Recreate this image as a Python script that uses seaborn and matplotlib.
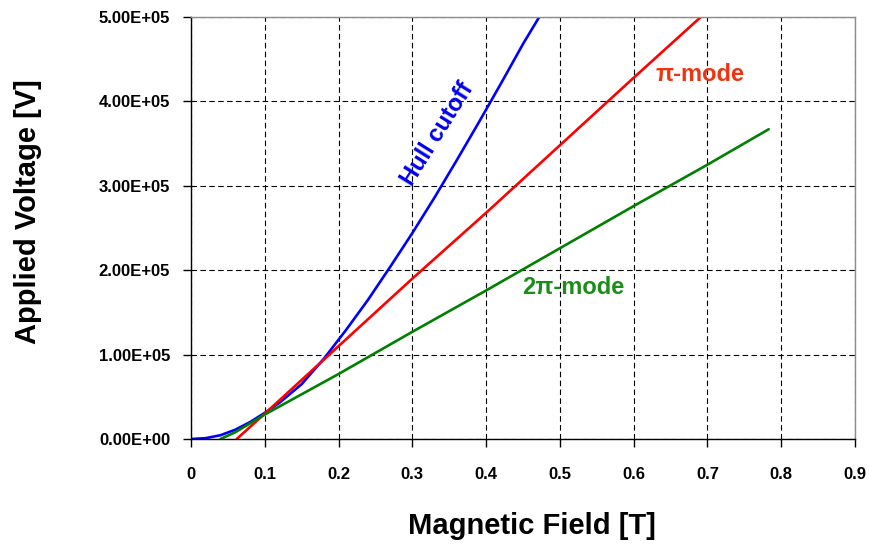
import matplotlib
matplotlib.use("Agg")
import matplotlib.pyplot as plt
import seaborn as sns
import pandas as pd
from matplotlib.ticker import FuncFormatter

# ---- data ----
hull_B = [0.0, 0.02, 0.04, 0.06, 0.08, 0.10, 0.12, 0.15, 0.18, 0.21, 0.24, 0.27,
          0.30, 0.33, 0.36, 0.39, 0.42, 0.45, 0.472]
hull_V = [0, 1000, 4500, 11000, 20000, 31000, 43000, 65000, 95000, 129000, 165000,
          204000, 244000, 286000, 330000, 375000, 421000, 468000, 500000]

pi_B = [0.062, 0.10, 0.20, 0.30, 0.40, 0.50, 0.60, 0.691]
pi_V = [0, 30000, 110000, 190000, 268000, 348000, 428000, 500000]

twopi_B = [0.04, 0.06, 0.10, 0.20, 0.30, 0.40, 0.50, 0.60, 0.70, 0.783]
twopi_V = [0, 8000, 29000, 77000, 127000, 176000, 226000, 276000, 325000, 367000]

x_ticks = [0, 0.1, 0.2, 0.3, 0.4, 0.5, 0.6, 0.7, 0.8, 0.9]
y_ticks = [0, 100000, 200000, 300000, 400000, 500000]

sns.set_style("white")
plt.rcParams["font.family"] = ["Liberation Sans", "DejaVu Sans"]
plt.rcParams["font.weight"] = "bold"

fig = plt.figure(figsize=(8.69, 5.48), dpi=100)
ax = fig.add_axes([191 / 869, 1 - 439 / 548, 664 / 869, 422 / 548])

hull = pd.DataFrame({"B": hull_B, "V": hull_V})
pim = pd.DataFrame({"B": pi_B, "V": pi_V})
tpm = pd.DataFrame({"B": twopi_B, "V": twopi_V})

sns.lineplot(data=hull, x="B", y="V", ax=ax, color="#0000FF", lw=1.9, sort=False, estimator=None)
sns.lineplot(data=pim, x="B", y="V", ax=ax, color="#FF0000", lw=1.9, sort=False, estimator=None)
sns.lineplot(data=tpm, x="B", y="V", ax=ax, color="#008000", lw=1.9, sort=False, estimator=None)

ax.set_xlim(0, 0.9)
ax.set_ylim(0, 500000)
ax.set_xticks(x_ticks)
ax.set_yticks(y_ticks)
ax.xaxis.set_major_formatter(FuncFormatter(lambda v, p: f"{v:g}"))
ax.yaxis.set_major_formatter(FuncFormatter(lambda v, p: f"{v:.2E}"))

ax.grid(True, color="black", linestyle=(0, (5, 3)), linewidth=0.8)
ax.set_axisbelow(True)

for s in ["left", "bottom"]:
    ax.spines[s].set_color("black")
    ax.spines[s].set_linewidth(1.0)
for s in ["top", "right"]:
    ax.spines[s].set_color("#8c8c8c")
    ax.spines[s].set_linewidth(1.0)

ax.tick_params(axis="both", which="major", direction="out", length=6, width=1,
               color="black", labelsize=12, labelcolor="black")
ax.tick_params(axis="x", pad=14, bottom=True)
ax.tick_params(axis="y", pad=9, left=True)
for lab in ax.get_xticklabels() + ax.get_yticklabels():
    lab.set_fontweight("bold")

ax.set_xlabel("Magnetic Field [T]", fontsize=21, fontweight="bold", color="black")
ax.set_ylabel("Applied Voltage [V]", fontsize=21, fontweight="bold", color="black")
ax.xaxis.set_label_coords((532 - 191) / 664, (439 - 512) / 422)
ax.yaxis.set_label_coords((42 - 191) / 664, (439 - 212) / 422)

ax.text(0.334, 361000, "Hull cutoff", color="#0000EE", fontsize=17, fontweight="bold",
        rotation=58, ha="center", va="center", rotation_mode="anchor")
ax.text(0.69, 432000, "π-mode", color="#EE3311", fontsize=17, fontweight="bold",
        ha="center", va="center")
ax.text(0.518, 180000, "2π-mode", color="#1A8C1A", fontsize=17, fontweight="bold",
        ha="center", va="center")

fig.savefig("out.png", dpi=100)
